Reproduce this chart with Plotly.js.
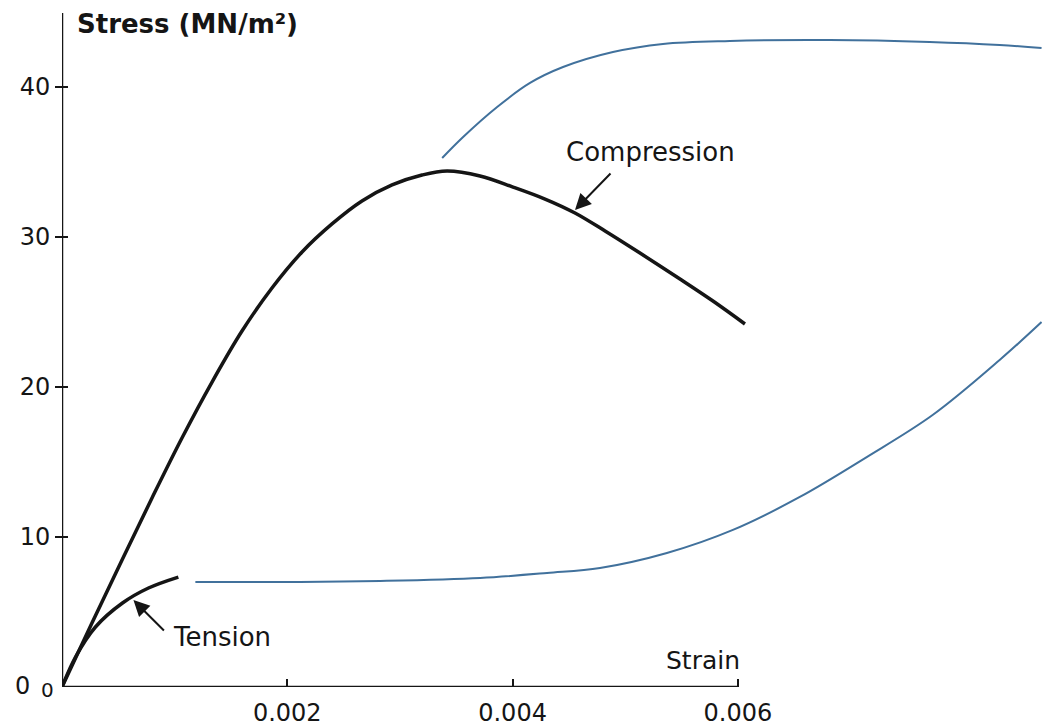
<!DOCTYPE html>
<html>
<head>
<meta charset="utf-8">
<script src="https://cdn.plot.ly/plotly-3.0.1.min.js"></script>
<style>html,body{margin:0;padding:0;background:#fff;}#chart{width:1042px;height:728px;}</style>
</head>
<body>
<div id="chart"></div>
<script>
// Compression curve (strain, stress MN/m²)
const compStrain = [0, 0.000266, 0.000533, 0.000799, 0.001065, 0.001332, 0.001598, 0.001864, 0.002131, 0.002397, 0.002663, 0.00293, 0.003196, 0.003418, 0.003711, 0.004004, 0.004288, 0.004554, 0.004821, 0.005131, 0.005486, 0.005779, 0.006063];
const compStress = [0, 4.27, 8.47, 12.6, 16.6, 20.33, 23.73, 26.6, 29.0, 30.87, 32.4, 33.47, 34.13, 34.4, 34.07, 33.33, 32.53, 31.6, 30.4, 28.93, 27.2, 25.73, 24.2];
// Tension curve
const tensStrain = [0, 0.00012, 0.000297, 0.000537, 0.000768, 0.001033];
const tensStress = [0, 2.0, 4.0, 5.6, 6.6, 7.33];
// Blue callout lines (drawn over the figure)
const blueUpperX = [0.003375, 0.003561, 0.003863, 0.004155, 0.004448, 0.004891, 0.005335, 0.005929, 0.006816, 0.007703, 0.008324, 0.008696];
const blueUpperY = [35.27, 36.67, 38.67, 40.27, 41.33, 42.33, 42.87, 43.07, 43.13, 43.0, 42.8, 42.6];
const blueLowerX = [0.001184, 0.002115, 0.002825, 0.003712, 0.004306, 0.004776, 0.00537, 0.005956, 0.00655, 0.007144, 0.007729, 0.008324, 0.008696];
const blueLowerY = [7.0, 7.0, 7.07, 7.27, 7.6, 7.93, 8.93, 10.47, 12.67, 15.33, 18.13, 21.8, 24.33];
// Ticks
const yTicks = [10, 20, 30, 40];
const xTicks = [0.002, 0.004, 0.006];
const xTickText = ['0.002', '0.004', '0.006'];

const FONT = 'DejaVu Sans, sans-serif';
const INK = '#151515';
const BLUE = '#41719c';
const PLOT_W = 980;
const Y_MAX = 45.8;

const traces = [
  {x: compStrain, y: compStress, mode: 'lines', line: {color: INK, width: 3.5, shape: 'spline', smoothing: 1}, name: 'Compression'},
  {x: tensStrain, y: tensStress, mode: 'lines', line: {color: INK, width: 3.5, shape: 'spline'}, name: 'Tension'},
  {x: blueUpperX, y: blueUpperY, mode: 'lines', line: {color: BLUE, width: 2, shape: 'spline'}, name: 'callout 1'},
  {x: blueLowerX, y: blueLowerY, mode: 'lines', line: {color: BLUE, width: 2, shape: 'spline'}, name: 'callout 2'}
];

// axis lines and crossing y tick marks (tick marks positioned by the tick values)
const shapes = [
  {type: 'line', xref: 'x', yref: 'y', x0: 0, y0: 0, x1: 0.006, y1: 0, line: {color: INK, width: 2.5}},
  {type: 'line', xref: 'x', yref: 'y', x0: 0, y0: 0, x1: 0, y1: 44.93, line: {color: INK, width: 2.5}}
].concat(yTicks.map(v => ({
  type: 'line', layer: 'above', xref: 'paper', yref: 'paper', x0: -6 / PLOT_W, x1: 6 / PLOT_W, y0: v / Y_MAX, y1: v / Y_MAX,
  line: {color: INK, width: 2}
})));

const layout = {
  width: 1042, height: 728,
  margin: {l: 62, r: 0, t: 0, b: 41},
  paper_bgcolor: '#fff', plot_bgcolor: 'rgba(0,0,0,0)',
  showlegend: false,
  font: {family: FONT, color: INK},
  xaxis: {
    range: [0, 0.0087], showgrid: false, zeroline: false, showline: false,
    tickmode: 'array', tickvals: xTicks, ticktext: xTickText,
    ticks: 'inside', ticklen: 8, tickwidth: 2, tickcolor: INK,
    tickfont: {family: FONT, size: 24, color: INK}, ticklabelstandoff: 9
  },
  yaxis: {
    range: [0, Y_MAX], showgrid: false, zeroline: false, showline: false,
    tickmode: 'array', tickvals: yTicks,
    ticks: 'outside', ticklen: 6, tickwidth: 2, tickcolor: INK,
    tickfont: {family: FONT, size: 24, color: INK}, ticklabelstandoff: 0
  },
  shapes: shapes,
  annotations: [
    {xref: 'x', yref: 'y', x: 0.000115, y: 44.2, xanchor: 'left', yanchor: 'middle', showarrow: false,
     text: 'Stress (MN/m²)', font: {family: FONT, size: 26, color: INK, weight: 'bold'}},
    {xref: 'x', yref: 'y', x: 0.006037, y: 1.8, xanchor: 'right', yanchor: 'middle', showarrow: false,
     text: 'Strain', font: {family: FONT, size: 25, color: INK}},
    {xref: 'x', yref: 'y', x: 0.00522, y: 35.67, xanchor: 'center', yanchor: 'middle', showarrow: false,
     text: 'Compression', font: {family: FONT, size: 26, color: INK}},
    {xref: 'x', yref: 'y', x: 0.00142, y: 3.33, xanchor: 'center', yanchor: 'middle', showarrow: false,
     text: 'Tension', font: {family: FONT, size: 26, color: INK}},
    {xref: 'x', yref: 'y', x: 0.004554, y: 31.8, ax: 37, ay: -38, text: '', showarrow: true,
     arrowhead: 2, arrowsize: 1.6, arrowwidth: 2, arrowcolor: INK},
    {xref: 'x', yref: 'y', x: 0.000634, y: 5.8, ax: 32, ay: 32, text: '', showarrow: true,
     arrowhead: 2, arrowsize: 1.6, arrowwidth: 2, arrowcolor: INK},
    {xref: 'paper', yref: 'paper', x: -0.0153, y: -0.0044, xanchor: 'center', yanchor: 'middle', showarrow: false,
     text: '0', font: {family: FONT, size: 20, color: INK}},
    {xref: 'paper', yref: 'paper', x: -0.0408, y: 0.0015, xanchor: 'center', yanchor: 'middle', showarrow: false,
     text: '0', font: {family: FONT, size: 24, color: INK}}
  ]
};

Plotly.newPlot('chart', traces, layout, {staticPlot: true, displayModeBar: false});
</script>
</body>
</html>
